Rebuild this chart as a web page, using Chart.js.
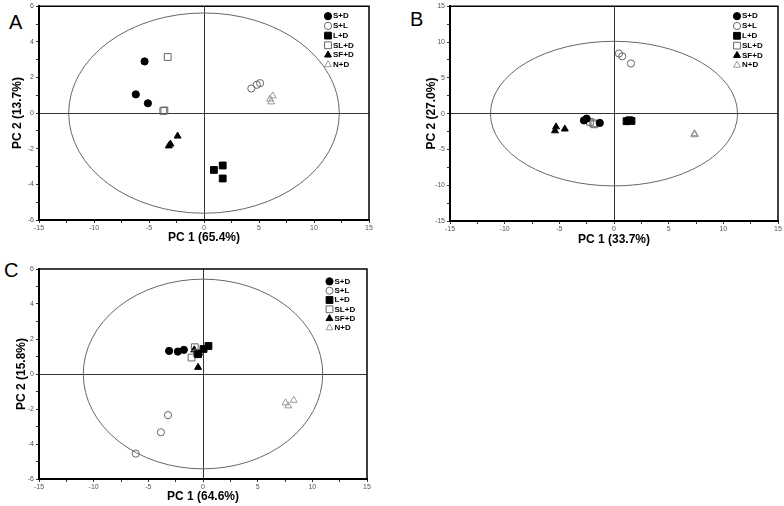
<!DOCTYPE html>
<html>
<head>
<meta charset="utf-8">
<script src="https://cdn.jsdelivr.net/npm/chart.js@4.4.1/dist/chart.umd.min.js"></script>
<style>
    body { margin: 0; background: #fff; width: 784px; height: 506px; position: relative; overflow: hidden; font-family: 'Liberation Sans', Arial, sans-serif; }
    canvas { position: absolute; }
    .painel { position: absolute; font-size: 20px; color: #000; line-height: normal; }
</style>
</head>
<body>
<div class="painel" style="left:9px;top:11px">A</div>
<div class="painel" style="left:410px;top:8px">B</div>
<div class="painel" style="left:4px;top:259px">C</div>
<canvas id="graficoA" width="392" height="250" style="left:0;top:0"></canvas>
<canvas id="graficoB" width="384" height="250" style="left:400px;top:0"></canvas>
<canvas id="graficoC" width="392" height="256" style="left:0;top:250px"></canvas>
<script>
// Tratamentos (mesma ordem em todos os painéis)
const grupos = ['S+D', 'S+L', 'L+D', 'SL+D', 'SF+D', 'N+D'];

// Painel A - scores PC1 / PC2
const aX = [[-5.4, -6.2, -5.1], [4.3, 4.8, 5.1], [0.9, 1.7, 1.7], [-3.3, -3.6, -3.7], [-2.4, -3.05, -3.2], [6.25, 6.0, 6.1]];
const aY = [[2.9, 1.05, 0.55], [1.38, 1.59, 1.68], [-3.19, -2.94, -3.67], [3.15, 0.15, 0.12], [-1.29, -1.74, -1.84], [0.97, 0.79, 0.63]];

// Painel B
const bX = [[-2.75, -2.5, -1.3], [0.45, 0.75, 1.55], [1.15, 1.6, 1.4], [-2.2, -1.8, -1.9], [-5.3, -5.4, -4.5], [7.35, 7.4, 7.35]];
const bY = [[-0.95, -0.7, -1.3], [8.4, 8.0, 7.0], [-1.07, -1.03, -0.93], [-1.15, -1.5, -1.35], [-1.85, -2.4, -2.15], [-2.8, -2.9, -2.95]];

// Painel C
const cX = [[-3.1, -2.3, -1.75], [-3.2, -3.85, -6.15], [0.5, 0.05, -0.45], [-0.75, -1.05, -0.55], [-0.45, -0.8, -0.35], [7.55, 7.8, 8.3]];
const cY = [[1.32, 1.28, 1.38], [-2.35, -3.33, -4.55], [1.6, 1.43, 1.13], [1.53, 0.94, 1.2], [0.38, 1.38, 1.2], [-1.65, -1.82, -1.5]];

// Títulos dos eixos (A, B, C)
const titulosX = ['PC 1 (65.4%)', 'PC 1 (33.7%)', 'PC 1 (64.6%)'];
const titulosY = ['PC 2 (13.7%)', 'PC 2 (27.0%)', 'PC 2 (15.8%)'];

// Limites dos eixos e elipse de confiança (semi-eixos em unidades de PC)
const limiteY = [6, 15, 6];
const elipseRx = [12.3, 11.3, 10.95];
const elipseRy = [5.62, 10.1, 5.42];

const fonte = "'Liberation Sans', Arial, sans-serif";

// Marcadores de cada tratamento
const marcadores = [
    { estilo: 'circle', fundo: '#000', borda: '#000', raio: 3.6 },
    { estilo: 'circle', fundo: 'rgba(0,0,0,0)', borda: '#666', raio: 3.6 },
    { estilo: 'rect', fundo: '#000', borda: '#000', raio: 4.8 },
    { estilo: 'rect', fundo: 'rgba(0,0,0,0)', borda: '#666', raio: 4.8 },
    { estilo: 'triangle', fundo: '#000', borda: '#000', raio: 4 },
    { estilo: 'triangle', fundo: 'rgba(0,0,0,0)', borda: '#999', raio: 4 }
];

// Elipse + moldura superior/direita
const molduraPCA = {
    id: 'molduraPCA',
    beforeDatasetsDraw(chart, args, opts) {
        const { ctx, scales: { x, y } } = chart;
        const cx = x.getPixelForValue(0);
        const cy = y.getPixelForValue(0);
        const rx = x.getPixelForValue(opts.rx) - cx;
        const ry = cy - y.getPixelForValue(opts.ry);
        ctx.save();
        ctx.strokeStyle = '#666';
        ctx.lineWidth = 1;
        ctx.beginPath();
        ctx.ellipse(cx, cy, rx, ry, 0, 0, Math.PI * 2);
        ctx.stroke();
        ctx.restore();
    },
    afterDraw(chart) {
        const { ctx, chartArea: a } = chart;
        ctx.save();
        ctx.strokeStyle = '#000';
        ctx.lineWidth = 1.5;
        ctx.beginPath();
        ctx.moveTo(a.left, a.top);
        ctx.lineTo(a.right, a.top);
        ctx.lineTo(a.right, a.bottom);
        ctx.stroke();
        ctx.restore();
    }
};

// Legenda dentro da área do gráfico (canto superior direito)
const legendaInterna = {
    id: 'legendaInterna',
    afterDraw(chart, args, opts) {
        const { ctx, chartArea } = chart;
        ctx.save();
        ctx.font = 'bold 8px ' + fonte;
        ctx.textBaseline = 'middle';
        chart.data.datasets.forEach((ds, i) => {
            const x = chartArea.right - opts.dx;
            const y = chartArea.top + opts.dy + i * opts.passo;
            ctx.fillStyle = ds.backgroundColor;
            ctx.strokeStyle = ds.borderColor;
            ctx.lineWidth = 1;
            Chart.helpers.drawPoint(ctx, { pointStyle: ds.pointStyle, radius: ds.pointRadius, borderWidth: 1, rotation: 0 }, x, y);
            ctx.fillStyle = '#000';
            ctx.fillText(ds.label, x + 5, y);
        });
        ctx.restore();
    }
};

function criaPCA(canvasId, k, xs, ys, cfg) {
    const ctx = document.getElementById(canvasId);
    const passoY = limiteY[k] > 10 ? 2.5 : 1;
    const rotuloY = limiteY[k] > 10 ? 5 : 2;

    const datasets = grupos.map((g, i) => ({
        label: g,
        data: xs[i].map((v, j) => ({ x: v, y: ys[i][j] })),
        pointStyle: marcadores[i].estilo,
        pointRadius: marcadores[i].raio,
        backgroundColor: marcadores[i].fundo,
        borderColor: marcadores[i].borda,
        borderWidth: 1,
        showLine: false
    }));

    const linhaZero = c => (c.tick && c.tick.value === 0) ? '#333' : 'rgba(0,0,0,0)';

    new Chart(ctx, {
        type: 'scatter',
        data: { datasets },
        options: {
            responsive: false,
            animation: false,
            events: [],
            layout: { padding: cfg.padding },
            plugins: {
                legend: { display: false },
                tooltip: { enabled: false },
                molduraPCA: { rx: elipseRx[k], ry: elipseRy[k] },
                legendaInterna: cfg.legenda
            },
            scales: {
                x: {
                    type: 'linear', min: -15, max: 15,
                    ticks: {
                        stepSize: 2.5, autoSkip: false, maxRotation: 0, padding: 1,
                        color: '#555', font: { size: 7, family: fonte },
                        callback: v => (v % 5 === 0 ? v : '')
                    },
                    grid: { color: linhaZero, tickColor: '#333', tickLength: 3, lineWidth: 1 },
                    border: { display: true, color: '#000', width: 2 },
                    title: {
                        display: true, text: titulosX[k], color: '#000',
                        font: { size: 12, weight: 'bold', family: fonte },
                        padding: { top: 0, bottom: cfg.tituloX }
                    },
                    afterFit: s => { s.height = cfg.alturaX; }
                },
                y: {
                    type: 'linear', min: -limiteY[k], max: limiteY[k],
                    ticks: {
                        stepSize: passoY, autoSkip: false, padding: 2,
                        color: '#555', font: { size: 7, family: fonte },
                        callback: v => (v % rotuloY === 0 ? v : '')
                    },
                    grid: { color: linhaZero, tickColor: '#333', tickLength: 3, lineWidth: 1 },
                    border: { display: true, color: '#000', width: 2 },
                    title: {
                        display: true, text: titulosY[k], color: '#000',
                        font: { size: 12, weight: 'bold', family: fonte },
                        padding: { top: cfg.tituloY, bottom: 0 }
                    },
                    afterFit: s => { s.width = cfg.larguraY; }
                }
            }
        },
        plugins: [molduraPCA, legendaInterna]
    });
}

document.addEventListener('DOMContentLoaded', () => {
    // ==========================
    // PAINEL A
    // ==========================
    criaPCA('graficoA', 0, aX, aY, {
        padding: { left: 0, top: 6, right: 23, bottom: 0 },
        larguraY: 39, alturaX: 30, tituloX: 4.8, tituloY: 10,
        legenda: { dx: 41, dy: 10, passo: 9.7 }
    });

    // ==========================
    // PAINEL B
    // ==========================
    criaPCA('graficoB', 1, bX, bY, {
        padding: { left: 0, top: 6, right: 6, bottom: 0 },
        larguraY: 50, alturaX: 29, tituloX: 2.8, tituloY: 24,
        legenda: { dx: 41, dy: 10, passo: 9.8 }
    });

    // ==========================
    // PAINEL C
    // ==========================
    criaPCA('graficoC', 2, cX, cY, {
        padding: { left: 0, top: 19, right: 25, bottom: 0 },
        larguraY: 39, alturaX: 27, tituloX: 1.8, tituloY: 14,
        legenda: { dx: 37.5, dy: 12.4, passo: 9.3 }
    });
});
</script>
</body>
</html>
